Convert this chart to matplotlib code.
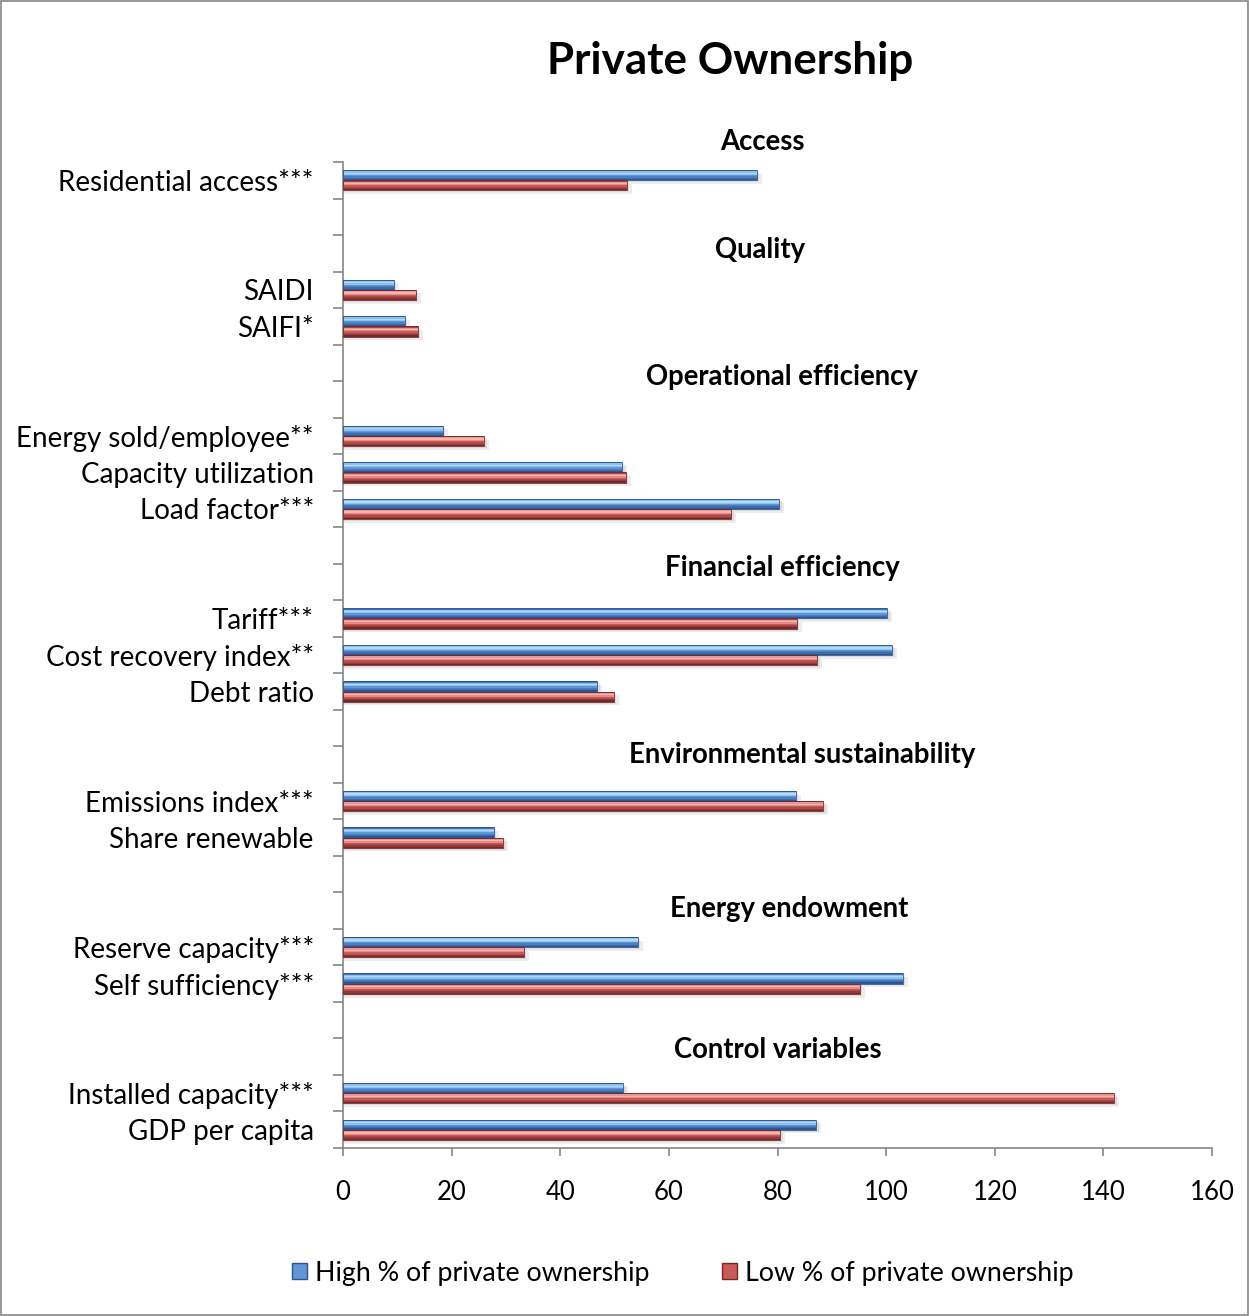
import matplotlib
matplotlib.use("Agg")
import matplotlib.pyplot as plt
from matplotlib.patches import Rectangle, Patch
from matplotlib.ticker import FixedLocator, NullFormatter
import numpy as np

plt.rcParams['font.family'] = ['Lato', 'DejaVu Sans']

# Indicator rows (top to bottom); empty strings are spacer rows between groups
categories = [
    "Residential access***", "", "",
    "SAIDI", "SAIFI*", "", "",
    "Energy sold/employee**", "Capacity utilization", "Load factor***", "", "",
    "Tariff***", "Cost recovery index**", "Debt ratio", "", "",
    "Emissions index***", "Share renewable", "", "",
    "Reserve capacity***", "Self sufficiency***", "", "",
    "Installed capacity***", "GDP per capita",
]

high_private = [
    76.2, None, None,
    9.4, 11.4, None, None,
    18.4, 51.4, 80.3, None, None,
    100.2, 101.1, 46.8, None, None,
    83.4, 27.8, None, None,
    54.3, 103.1, None, None,
    51.6, 87.1,
]

low_private = [
    52.3, None, None,
    13.4, 13.8, None, None,
    26.0, 52.1, 71.5, None, None,
    83.6, 87.3, 49.9, None, None,
    88.4, 29.5, None, None,
    33.3, 95.2, None, None,
    142.0, 80.5,
]

group_titles = ["Access", "Quality", "Operational efficiency", "Financial efficiency",
                "Environmental sustainability", "Energy endowment", "Control variables"]
group_title_pos = [(77.3, -1.06), (76.8, 1.92), (80.9, 5.39), (80.9, 10.62),
                   (84.6, 15.74), (82.2, 19.95), (80.0, 23.81)]

x_ticks = [0, 20, 40, 60, 80, 100, 120, 140, 160]

series_labels = ["High % of private ownership", "Low % of private ownership"]

# Vertical shading profiles (top -> bottom) giving the bevelled look
blue_profile = ["#3f74b8", "#8cc0f0", "#b2daf9", "#8fc0ee", "#5f97d6", "#4a80c3", "#3c6cab", "#2f568c"]
red_profile = ["#a84542", "#e79895", "#f4b6b3", "#e48a87", "#c95a57", "#b14a47", "#963b39", "#72292a"]

fig = plt.figure(figsize=(12.49, 13.16), dpi=100)
ax = fig.add_axes([343 / 1249, 1 - 1148 / 1316, (1212 - 343) / 1249, (1148 - 162) / 1316])

bar_h = 0.28
n = len(categories)
ypos = np.arange(n)


def shaded_bars(values, offset, profile):
    idx = [i for i, v in enumerate(values) if v is not None]
    vals = np.array([values[i] for i in idx], dtype=float)
    y0 = ypos[idx] + offset  # top edge of each bar (axis is inverted)
    # soft drop shadow
    ax.barh(y0 + bar_h / 2 + 0.10, vals + 0.9, height=bar_h, color="#000000",
            alpha=0.07, align="center", zorder=1, linewidth=0)
    ax.barh(y0 + bar_h / 2 + 0.05, vals + 0.45, height=bar_h, color="#000000",
            alpha=0.08, align="center", zorder=1, linewidth=0)
    k = len(profile)
    strip = bar_h / k
    for j, c in enumerate(profile):
        ax.barh(y0 + strip * (j + 0.5), vals, height=strip * 1.02, color=c,
                align="center", zorder=2, linewidth=0)
    # outline
    ax.barh(y0 + bar_h / 2, vals, height=bar_h, facecolor="none",
            edgecolor=profile[-1], linewidth=0.6, align="center", zorder=3)


shaded_bars(high_private, -bar_h, blue_profile)
shaded_bars(low_private, 0.0, red_profile)

ax.set_ylim(n - 0.5, -0.5)
ax.set_xlim(0, 160)

# category boundaries carry the tick marks, labels sit at row centres
ax.yaxis.set_major_locator(FixedLocator(np.arange(-0.5, n, 1.0)))
ax.yaxis.set_major_formatter(NullFormatter())
ax.yaxis.set_minor_locator(FixedLocator(ypos))
ax.set_yticklabels(categories, minor=True)
ax.tick_params(axis="y", which="major", length=7, width=1.2, color="#868686", direction="out")
ax.tick_params(axis="y", which="minor", length=0, pad=21, labelsize=20)

ax.set_xticks(x_ticks)
ax.set_xticklabels([str(t) for t in x_ticks])
ax.tick_params(axis="x", length=6, width=1.2, color="#868686", direction="out", pad=17, labelsize=18.5)

for side in ["top", "right"]:
    ax.spines[side].set_visible(False)
for side in ["left", "bottom"]:
    ax.spines[side].set_color("#868686")
    ax.spines[side].set_linewidth(1.2)

for title, (gx, gy) in zip(group_titles, group_title_pos):
    ax.text(gx, gy, title, ha="center", va="center", fontsize=19.8, fontweight="bold",
            clip_on=False)

fig.text(730 / 1249, 1 - 61 / 1316, "Private Ownership", ha="center", va="center",
         fontsize=31.7, fontweight="bold")

handles = [Patch(facecolor="#5f97d6", edgecolor="#2f568c", label=series_labels[0]),
           Patch(facecolor="#c95a57", edgecolor="#72292a", label=series_labels[1])]
fig.legend(handles=handles, loc="center", bbox_to_anchor=(683 / 1249, 1 - 1273 / 1316),
           ncol=2, frameon=False, fontsize=19.3, handlelength=0.55, handleheight=0.55,
           handletextpad=0.3, columnspacing=2.7)

# outer chart frame
fig.patches.append(Rectangle((0.0008, 0.0008), 0.9984, 0.9984, transform=fig.transFigure,
                             fill=False, edgecolor="#868686", linewidth=1.2))

fig.savefig("out.png", dpi=100)
